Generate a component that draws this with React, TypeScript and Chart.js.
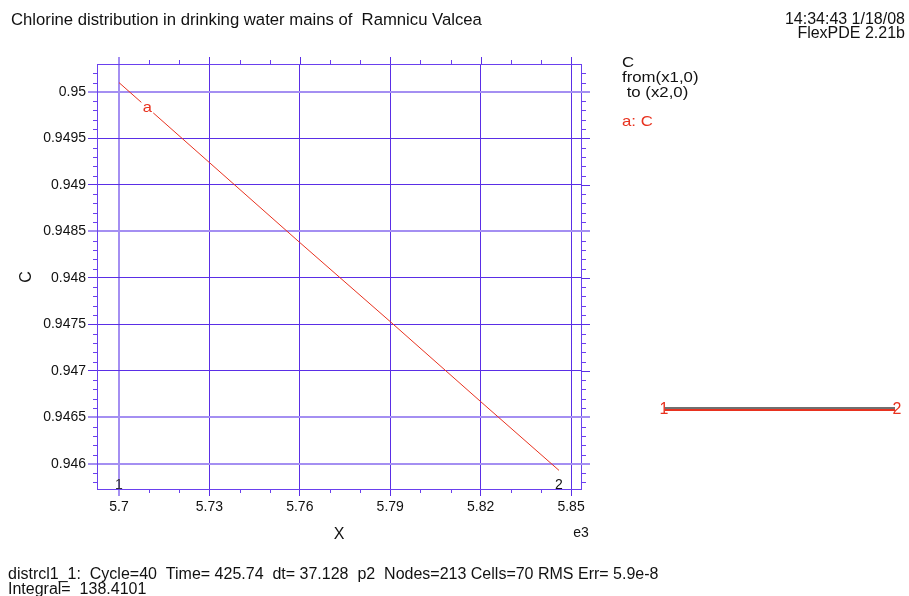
import React, { useEffect, useRef } from "react";
import { Chart, registerables } from "chart.js";

Chart.register(...registerables);

const FONT = '"Liberation Sans", Arial, Helvetica, sans-serif';

// ---- data ----
const xValues = [5.7, 5.73, 5.76, 5.79, 5.82, 5.846];
const cValues = [0.9501, 0.94924, 0.94838, 0.94753, 0.94667, 0.94593];

const xTicks = [5.7, 5.73, 5.76, 5.79, 5.82, 5.85];
const xTickLabels = ["5.7", "5.73", "5.76", "5.79", "5.82", "5.85"];
const xMinorTicks = [5.71, 5.72, 5.74, 5.75, 5.77, 5.78, 5.8, 5.81, 5.83, 5.84];

const yTicks = [0.946, 0.9465, 0.947, 0.9475, 0.948, 0.9485, 0.949, 0.9495, 0.95];
const yTickLabels = ["0.946", "0.9465", "0.947", "0.9475", "0.948", "0.9485", "0.949", "0.9495", "0.95"];
const yMinorTicks = [
  0.9458, 0.9459, 0.9461, 0.9462, 0.9463, 0.9464, 0.9466, 0.9467, 0.9468, 0.9469,
  0.9471, 0.9472, 0.9473, 0.9474, 0.9476, 0.9477, 0.9478, 0.9479, 0.9481, 0.9482,
  0.9483, 0.9484, 0.9486, 0.9487, 0.9488, 0.9489, 0.9491, 0.9492, 0.9493, 0.9494,
  0.9496, 0.9497, 0.9498, 0.9499, 0.9501, 0.9502,
];

const xMin = 5.6927;
const xMax = 5.8533;
const yMin = 0.94573;
const yMax = 0.9503;

const curveLabel = "a";
const curveLabelX = 5.7094;
const endLabels = ["1", "2"];

const titleText = "Chlorine distribution in drinking water mains of  Ramnicu Valcea";
const stampLines = ["14:34:43 1/18/08", "FlexPDE 2.21b"];
const legendLines = ["C", "from(x1,0)", " to (x2,0)"];
const seriesLegend = "a: C";
const xAxisTitle = "X";
const yAxisTitle = "C";
const xExponent = "e3";
const footerLines = [
  "distrcl1_1:  Cycle=40  Time= 425.74  dt= 37.128  p2  Nodes=213 Cells=70 RMS Err= 5.9e-8",
  "Integral=  138.4101",
];

// segment sketch (domain path from point 1 to point 2)
const segmentX = [0, 1];
const segmentLabels = ["1", "2"];

// ---- styles ----
const GRID_DARK = "#5a2ee6";
const GRID_LIGHT = "#a48ff2";
const FRAME = "#6a40ee";
const RED = "#e8321f";
const softY = [0.95, 0.9485, 0.9465, 0.946];
const softX = [5.7];

function near(list: number[], v: number) {
  return list.some((t) => Math.abs(t - v) < 1e-7);
}

function drawText(
  ctx: CanvasRenderingContext2D,
  s: string,
  x: number,
  y: number,
  size: number,
  color: string,
  align: CanvasTextAlign = "left",
  baseline: CanvasTextBaseline = "alphabetic",
  stretch = 1
) {
  ctx.save();
  ctx.font = `${size}px ${FONT}`;
  ctx.fillStyle = color;
  ctx.textAlign = align;
  ctx.textBaseline = baseline;
  ctx.translate(x, y);
  ctx.scale(stretch, 1);
  ctx.fillText(s, 0, 0);
  ctx.restore();
}

const framePlugin = {
  id: "frameTicks",
  afterDraw(chart: any) {
    const { ctx, chartArea: a, scales } = chart;
    const xs = scales.x;
    const ys = scales.y;
    const al = (v: number) => Math.round(v) + 0.5;
    ctx.save();
    ctx.lineWidth = 1;
    ctx.strokeStyle = FRAME;
    ctx.beginPath();
    ctx.moveTo(a.left, al(a.top));
    ctx.lineTo(a.right + 1, al(a.top));
    ctx.moveTo(al(a.right), a.top);
    ctx.lineTo(al(a.right), a.bottom);
    for (const v of xMinorTicks) {
      const p = al(xs.getPixelForValue(v));
      ctx.moveTo(p, a.bottom);
      ctx.lineTo(p, a.bottom + 4);
      ctx.moveTo(p, a.top);
      ctx.lineTo(p, a.top - 4);
    }
    for (const v of yMinorTicks) {
      const p = al(ys.getPixelForValue(v));
      ctx.moveTo(a.left - 4, p);
      ctx.lineTo(a.left, p);
      ctx.moveTo(a.right, p);
      ctx.lineTo(a.right + 5, p);
    }
    ctx.stroke();
    for (const v of xTicks) {
      const soft = near(softX, v);
      ctx.strokeStyle = soft ? GRID_LIGHT : GRID_DARK;
      ctx.lineWidth = soft ? 2 : 1;
      const p = soft ? Math.round(xs.getPixelForValue(v)) : al(xs.getPixelForValue(v));
      ctx.beginPath();
      ctx.moveTo(p, a.top);
      ctx.lineTo(p, a.top - 7);
      ctx.stroke();
    }
    for (const v of yTicks) {
      const soft = near(softY, v);
      ctx.strokeStyle = soft ? GRID_LIGHT : GRID_DARK;
      ctx.lineWidth = soft ? 2 : 1;
      const p = soft ? Math.round(ys.getPixelForValue(v)) : al(ys.getPixelForValue(v));
      ctx.beginPath();
      ctx.moveTo(a.right, p);
      ctx.lineTo(a.right + 9, p);
      ctx.stroke();
    }
    ctx.restore();
  },
};

const textPlugin = {
  id: "texts",
  afterDraw(chart: any) {
    const { ctx, chartArea: a, scales } = chart;
    const xs = scales.x;
    const ys = scales.y;
    ctx.save();
    // header
    drawText(ctx, titleText, 11, 25, 16.7, "#111");
    drawText(ctx, stampLines[0], 905, 24, 16, "#111", "right");
    drawText(ctx, stampLines[1], 905, 37.5, 16, "#111", "right");
    // legend block
    drawText(ctx, legendLines[0], 622, 67, 15, "#111", "left", "alphabetic", 1.12);
    drawText(ctx, legendLines[1], 622, 82, 15, "#111", "left", "alphabetic", 1.12);
    drawText(ctx, legendLines[2], 622, 96.5, 15, "#111", "left", "alphabetic", 1.12);
    drawText(ctx, seriesLegend, 622, 126, 15, RED, "left", "alphabetic", 1.12);
    // axis titles
    ctx.save();
    ctx.translate(27, (a.top + a.bottom) / 2 + 0.5);
    ctx.rotate(-Math.PI / 2);
    drawText(ctx, yAxisTitle, 0, 0, 16, "#111", "center", "middle");
    ctx.restore();
    drawText(ctx, xAxisTitle, (a.left + a.right) / 2, 535, 16, "#111", "center", "middle");
    drawText(ctx, xExponent, a.right, 533, 14, "#111", "center", "middle");
    // endpoint markers of the curve
    const x0 = xs.getPixelForValue(xValues[0]);
    const x1 = xs.getPixelForValue(xValues[xValues.length - 1]);
    drawText(ctx, endLabels[0], x0, a.bottom - 4, 14, "#333", "center", "middle");
    drawText(ctx, endLabels[1], x1, a.bottom - 4, 14, "#111", "center", "middle");
    // curve label "a" sitting on the line
    let cy = cValues[0];
    for (let i = 0; i < xValues.length - 1; i++) {
      if (curveLabelX >= xValues[i] && curveLabelX <= xValues[i + 1]) {
        const t = (curveLabelX - xValues[i]) / (xValues[i + 1] - xValues[i]);
        cy = cValues[i] + t * (cValues[i + 1] - cValues[i]);
      }
    }
    const lx = xs.getPixelForValue(curveLabelX);
    const ly = ys.getPixelForValue(cy);
    ctx.fillStyle = "#fff";
    ctx.fillRect(lx - 6, ly - 6, 12, 12);
    drawText(ctx, curveLabel, lx, ly, 15, RED, "center", "middle", 1.1);
    // footer
    drawText(ctx, footerLines[0], 8, 579, 16, "#111");
    drawText(ctx, footerLines[1], 8, 593.5, 16, "#111");
    ctx.restore();
  },
};

const segLabelPlugin = {
  id: "segLabels",
  afterDraw(chart: any) {
    const { ctx, scales } = chart;
    const xs = scales.x;
    const ys = scales.y;
    ctx.save();
    const y = ys.getPixelForValue(0);
    drawText(ctx, segmentLabels[0], xs.getPixelForValue(segmentX[0]) - 1, y, 16, RED, "center", "middle");
    drawText(ctx, segmentLabels[1], xs.getPixelForValue(segmentX[1]) + 2, y, 16, RED, "center", "middle");
    ctx.restore();
  },
};

export default function App() {
  const mainRef = useRef<HTMLCanvasElement>(null);
  const pipeRef = useRef<HTMLCanvasElement>(null);

  useEffect(() => {
    const gridColor = (c: any) =>
      c.tick && near(c.scale.axis === "x" ? softX : softY, c.tick.value) ? GRID_LIGHT : GRID_DARK;
    const gridWidth = (c: any) =>
      c.tick && near(c.scale.axis === "x" ? softX : softY, c.tick.value) ? 2 : 1;

    const main = new Chart(mainRef.current as HTMLCanvasElement, {
      type: "scatter",
      data: {
        datasets: [
          {
            data: xValues.map((x, i) => ({ x, y: cValues[i] })),
            showLine: true,
            borderColor: RED,
            borderWidth: 1,
            pointRadius: 0,
            fill: false,
            tension: 0,
          },
        ],
      },
      options: {
        animation: false,
        responsive: false,
        devicePixelRatio: 1,
        layout: { padding: { left: 0, top: 64, right: 328, bottom: 0 } },
        plugins: {
          legend: { display: false },
          tooltip: { enabled: false },
          title: { display: false },
        },
        scales: {
          x: {
            type: "linear",
            min: xMin,
            max: xMax,
            afterBuildTicks: (s: any) => {
              s.ticks = xTicks.map((v) => ({ value: v }));
            },
            afterFit: (s: any) => {
              s.height = 107;
            },
            ticks: {
              callback: (_v: any, i: number) => xTickLabels[i],
              font: { family: FONT, size: 14 },
              color: "#111",
              padding: 3,
              maxRotation: 0,
              autoSkip: false,
            },
            grid: { color: gridColor, lineWidth: gridWidth, tickLength: 7, drawTicks: true },
            border: { display: true, color: FRAME, width: 1 },
          },
          y: {
            type: "linear",
            min: yMin,
            max: yMax,
            afterBuildTicks: (s: any) => {
              s.ticks = yTicks.map((v) => ({ value: v }));
            },
            afterFit: (s: any) => {
              s.width = 97;
            },
            ticks: {
              callback: (_v: any, i: number) => yTickLabels[i],
              font: { family: FONT, size: 14 },
              color: "#111",
              padding: 2,
              autoSkip: false,
            },
            grid: { color: gridColor, lineWidth: gridWidth, tickLength: 9, drawTicks: true },
            border: { display: true, color: FRAME, width: 1 },
          },
        },
      },
      plugins: [framePlugin, textPlugin],
    } as any);

    const pipe = new Chart(pipeRef.current as HTMLCanvasElement, {
      type: "scatter",
      data: {
        datasets: [
          {
            data: segmentX.map((x) => ({ x, y: 0 })),
            showLine: true,
            borderColor: RED,
            borderWidth: 2,
            pointRadius: 0,
          },
          {
            data: segmentX.map((x) => ({ x, y: 1 })),
            showLine: true,
            borderColor: "#707070",
            borderWidth: 2,
            pointRadius: 0,
          },
        ],
      },
      options: {
        animation: false,
        responsive: false,
        devicePixelRatio: 1,
        layout: { padding: { left: 25, right: 14, top: 5, bottom: 7 } },
        plugins: { legend: { display: false }, tooltip: { enabled: false } },
        scales: {
          x: { type: "linear", min: 0, max: 1, display: false },
          y: { type: "linear", min: -4, max: 5, display: false },
        },
      },
      plugins: [segLabelPlugin],
    } as any);

    return () => {
      main.destroy();
      pipe.destroy();
    };
  }, []);

  return (
    <div style={{ position: "fixed", left: 0, top: 0, width: 909, height: 596, background: "#fff" }}>
      <canvas
        ref={mainRef}
        width={909}
        height={596}
        style={{ position: "absolute", left: 0, top: 0, width: 909, height: 596 }}
      />
      <canvas
        ref={pipeRef}
        width={269}
        height={30}
        style={{ position: "absolute", left: 640, top: 395, width: 269, height: 30 }}
      />
    </div>
  );
}
